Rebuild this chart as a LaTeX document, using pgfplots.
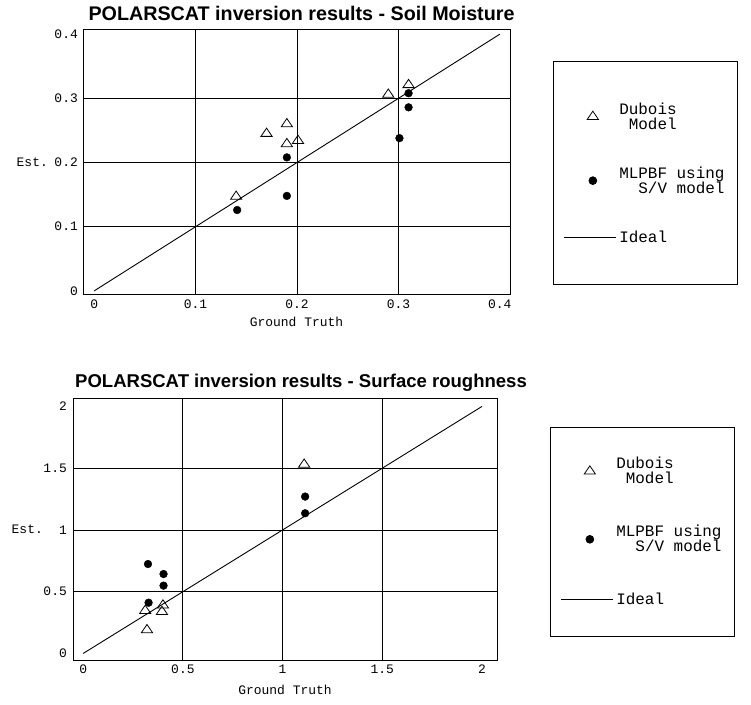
\documentclass[border=0pt]{standalone}
\usepackage{fontspec}
\setmainfont{Liberation Mono}
\newfontfamily\titlefont{Liberation Sans}
\usepackage{pgfplots}
\pgfplotsset{compat=1.18}
\usepackage{pgfplotstable}

\pgfplotstableread{
x y
0.140 0.147
0.170 0.245
0.190 0.260
0.190 0.229
0.201 0.234
0.290 0.306
0.310 0.321
}\topdubois
\pgfplotstableread{
x y
0.141 0.126
0.190 0.148
0.190 0.208
0.301 0.238
0.310 0.308
0.310 0.286
}\topmlp
\pgfplotstableread{
x y
0.320 0.190
0.311 0.346
0.395 0.338
0.400 0.390
1.108 1.530
}\botdubois
\pgfplotstableread{
x y
0.325 0.724
0.403 0.643
0.403 0.549
0.328 0.411
1.113 1.270
1.113 1.135
}\botmlp

\pgfplotsset{
  myaxis/.style={
    scale only axis,
    axis line style={black, line width=1bp},
    major tick length=0pt,
    /pgf/number format/assume math mode=true,
    tick label style={font=\fontsize{13}{14}\selectfont},
    xticklabel style={anchor=north, inner sep=0pt, yshift=-5bp},
    yticklabel style={anchor=east, inner sep=0pt, xshift=-5bp},
    major grid style={black, line width=0.85bp},
    extra x tick labels={}, extra y tick labels={},
    extra x tick style={grid=major},
    extra y tick style={grid=major},
    every axis x label/.style={at={(axis description cs:0.5,0)}, anchor=north, inner sep=0pt, yshift=-22bp, font=\fontsize{13}{14}\selectfont},
    every axis y label/.style={at={(axis description cs:0,0.5)}, anchor=east, inner sep=0pt, font=\fontsize{13}{14}\selectfont},
    every axis title/.style={at={(axis description cs:0.5,1)}, anchor=base, inner sep=0pt},
    legend cell align=left,
    legend style={anchor=north west, draw=black, line width=0.8bp,
      font=\fontsize{16}{15}\selectfont, cells={align=right},
      row sep=30bp, inner xsep=10bp, inner ysep=38bp,
      nodes={inner sep=3bp}},
  },
  duboisplot/.style={only marks, mark=triangle, mark size=6.5pt,
    mark options={draw=black, fill=white, line width=0.8bp, yscale=0.85},
    legend image code/.code={\draw[##1] plot coordinates {(29bp,0bp)};}},
  mlpplot/.style={only marks, mark=*, mark size=3.9pt,
    mark options={draw=black, fill=black},
    legend image code/.code={\draw[##1] plot coordinates {(29bp,0bp)};}},
  idealplot/.style={black, line width=0.9bp, mark=none,
    legend image code/.code={\draw[##1] (0bp,0bp) -- (52bp,0bp);}},
}

\begin{document}
\begin{tikzpicture}
\useasboundingbox (0,0) rectangle (751bp,705bp);
\begin{axis}[myaxis,
  at={(83bp,410bp)}, anchor=south west,
  width=427bp, height=265bp,
  xmin=-0.011, xmax=0.410, ymin=-0.0064, ymax=0.4065,
  xtick={0,0.1,0.2,0.3,0.4}, ytick={0,0.1,0.2,0.3,0.4},
  extra x ticks={0.1,0.2,0.3}, extra y ticks={0.1,0.2,0.3},
  title={POLARSCAT inversion results - Soil Moisture},
  title style={xshift=5bp, yshift=9bp, font=\titlefont\bfseries\fontsize{19.8}{21}\selectfont},
  xlabel={Ground Truth}, ylabel={Est.},
  ylabel style={xshift=-35bp},
  legend style={at={(1.1007,0.882)}},
]
\addplot[duboisplot] table[x=x,y=y] {\topdubois};
\addlegendentry{Dubois\\Model}
\addplot[mlpplot] table[x=x,y=y] {\topmlp};
\addlegendentry{MLPBF using\\S/V model}
\addplot[idealplot] coordinates {(0,0) (0.4,0.4)};
\addlegendentry{Ideal}
\end{axis}

\begin{axis}[myaxis,
  at={(73bp,45bp)}, anchor=south west,
  width=424bp, height=261bp,
  xmin=-0.051, xmax=2.075, ymin=-0.053, ymax=2.06,
  xtick={0,0.5,1,1.5,2}, ytick={0,0.5,1,1.5,2},
  extra x ticks={0.5,1,1.5}, extra y ticks={0.5,1,1.5},
  title={POLARSCAT inversion results - Surface roughness},
  title style={xshift=16bp, yshift=11bp, font=\titlefont\bfseries\fontsize{18.6}{20}\selectfont},
  xlabel={Ground Truth}, ylabel={Est.},
  xlabel style={yshift=-3bp},
  ylabel style={xshift=-30bp},
  yticklabel style={xshift=-1bp},
  legend style={at={(1.125,0.893)}, inner ysep=27bp, row sep=34bp},
]
\addplot[duboisplot] table[x=x,y=y] {\botdubois};
\addlegendentry{Dubois\\Model}
\addplot[mlpplot] table[x=x,y=y] {\botmlp};
\addlegendentry{MLPBF using\\S/V model}
\addplot[idealplot] coordinates {(0,0) (2,2)};
\addlegendentry{Ideal}
\end{axis}
\end{tikzpicture}
\end{document}
